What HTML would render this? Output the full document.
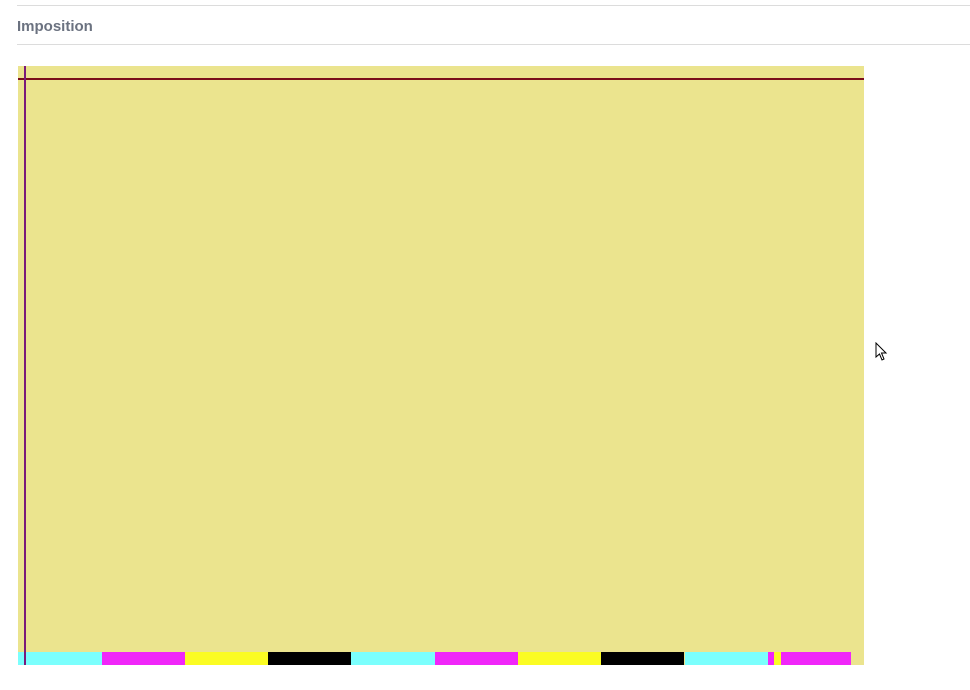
<!DOCTYPE html>
<html><head><meta charset="utf-8"><style>
body{margin:0;width:970px;height:690px;background:#fff;position:relative;overflow:hidden;font-family:"Liberation Sans",sans-serif}
.a{position:absolute}
</style></head><body>
<div class="a" style="left:17px;top:5px;width:953px;height:1px;background:#dcdcdc"></div>
<div class="a" style="left:17px;top:18px;font-size:15px;font-weight:bold;color:#6b7280">Imposition</div>
<div class="a" style="left:17px;top:44px;width:953px;height:1px;background:#dcdcdc"></div>
<div class="a" style="left:18px;top:66px;width:846px;height:599px;background:#ebe48e"></div>
<div class="a" style="left:18px;top:78px;width:846px;height:2px;background:#7a0f1a"></div>
<div id="strip"></div>
<div class="a" style="left:24px;top:66px;width:2px;height:599px;background:#7a1a7a;z-index:2"></div>
<div class="a" style="left:875px;top:342px">
<svg width="14" height="20"><path d="M1 1 L1 15 L4.5 12 L7 18 L9 17 L6.5 11 L11 11 Z" fill="#fff" stroke="#000" stroke-width="1"/></svg></div>
<script>
const segStarts=[18,102,185,268,351,435,518,601,685,768,774,781];
const segEnds=[102,185,268,351,435,518,601,684,768,774,781,851];
const segColors=["#7bfffd","#f026f9","#fbfc23","#000000","#7bfffd","#f026f9","#fbfc23","#000000","#7bfffd","#f026f9","#fbfc23","#f026f9"];
const strip=document.getElementById('strip');
segStarts.forEach((s,i)=>{const d=document.createElement('div');


d.style.cssText=`position:absolute;left:${s}px;top:652px;width:${segEnds[i]-s}px;height:13px;background:${segColors[i]}`;
strip.appendChild(d);});
</script>
</body></html>
